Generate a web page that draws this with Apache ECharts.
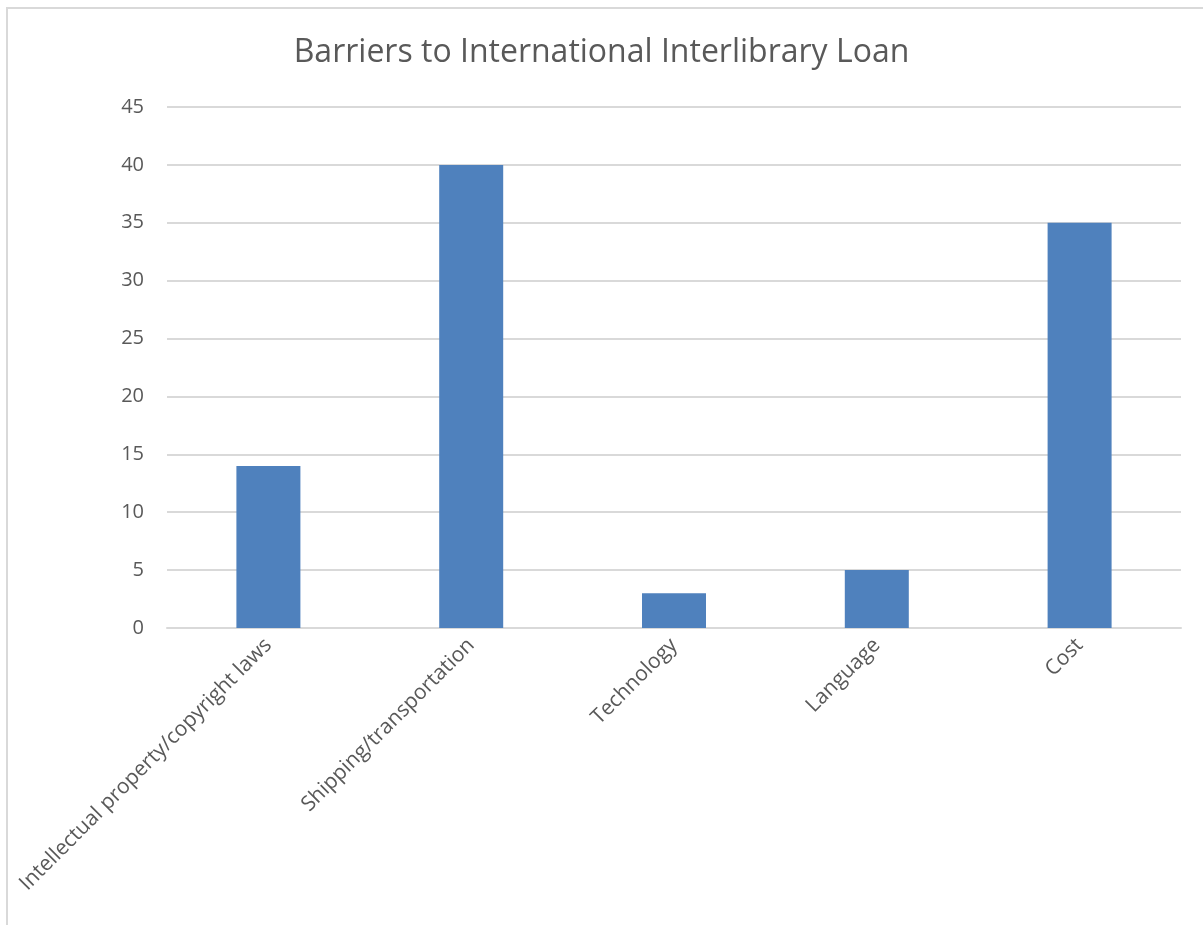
<!DOCTYPE html>
<html>
<head>
<meta charset="utf-8">
<script src="https://cdn.jsdelivr.net/npm/echarts@6/dist/echarts.min.js"></script>
<style>
  html, body { margin: 0; padding: 0; background: #fff; }
  #chart { position: absolute; left: 0; top: 0; width: 1203px; height: 925px; }
  #frame { position: absolute; left: 6px; top: 7px; width: 1220px; height: 940px;
           border: 2px solid #d9d9d9; pointer-events: none; }
</style>
</head>
<body>
<div id="chart"></div>
<div id="frame"></div>
<script>
// 数据
const categories = ['Intellectual property/copyright laws', 'Shipping/transportation', 'Technology', 'Language', 'Cost'];
const counts = [14, 40, 3, 5, 35];
const yTicks = [0, 5, 10, 15, 20, 25, 30, 35, 40, 45];

const font = '"Open Sans", sans-serif';

let myChart = echarts.init(document.getElementById('chart'));
myChart.setOption({
    animation: false,
    title: {
        text: 'Barriers to International Interlibrary Loan',
        left: 'center',
        top: 32,
        textStyle: {
            fontFamily: font,
            fontSize: 32,
            fontWeight: 'normal',
            color: '#595959'
        }
    },
    grid: {
        left: 167,
        right: 22,
        top: 107,
        bottom: 297
    },
    xAxis: {
        type: 'category',
        data: categories,
        axisLine: {lineStyle: {color: '#d9d9d9', width: 2}},
        axisTick: {show: false},
        axisLabel: {
            interval: 0,
            rotate: 45,
            margin: 14,
            fontFamily: font,
            fontSize: 21,
            color: '#595959'
        }
    },
    yAxis: {
        type: 'value',
        min: yTicks[0],
        max: yTicks[yTicks.length - 1],
        interval: 5,
        axisLine: {show: false},
        axisTick: {show: false},
        splitLine: {lineStyle: {color: '#d9d9d9', width: 2}},
        axisLabel: {
            margin: 23,
            fontFamily: font,
            fontSize: 20,
            color: '#595959'
        }
    },
    series: [
        {
            type: 'bar',
            data: counts,
            barWidth: 64,
            itemStyle: {color: '#4f81bd'}
        }
    ]
});
</script>
</body>
</html>
